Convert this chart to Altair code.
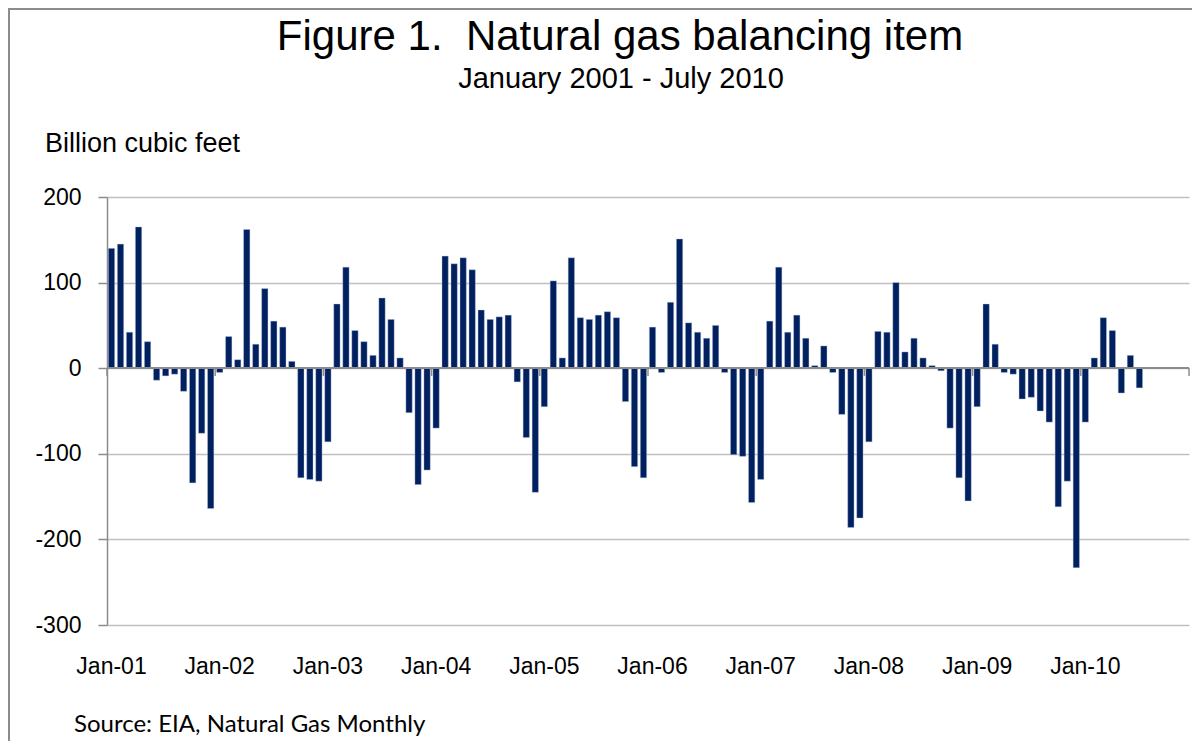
import altair as alt
import pandas as pd

# ---- data (billion cubic feet) ----
years = [2001, 2002, 2003, 2004, 2005, 2006, 2007, 2008, 2009, 2010]
v2001 = [140, 145, 42, 165, 31, -14, -9, -7, -27, -134, -76, -164]
v2002 = [-5, 37, 10, 162, 28, 93, 55, 48, 8, -128, -130, -132]
v2003 = [-86, 75, 118, 44, 31, 15, 82, 57, 12, -52, -136, -119]
v2004 = [-70, 131, 122, 129, 115, 68, 57, 60, 62, -16, -81, -145]
v2005 = [-45, 102, 12, 129, 59, 57, 62, 66, 59, -39, -115, -128]
v2006 = [48, -5, 77, 151, 53, 42, 35, 50, -5, -101, -103, -157]
v2007 = [-130, 55, 118, 42, 62, 35, 3, 26, -5, -54, -186, -175]
v2008 = [-86, 43, 42, 100, 19, 35, 12, 3, -3, -70, -128, -155]
v2009 = [-45, 75, 28, -5, -7, -36, -34, -50, -63, -162, -132, -233]
v2010 = [-63, 12, 59, 44, -29, 15, -23]
y_ticks = [-300, -200, -100, 0, 100, 200]

values = v2001 + v2002 + v2003 + v2004 + v2005 + v2006 + v2007 + v2008 + v2009 + v2010
months_all = [f"{y}-{m:02d}" for y in years for m in range(1, 13)]
df = pd.DataFrame({"month": months_all[:len(values)], "value": values})
jan_df = pd.DataFrame({"month": [f"{y}-01" for y in years]})

W, H = 1082, 428
FONT = "Liberation Sans"

xscale = alt.Scale(domain=months_all, paddingInner=0.3, paddingOuter=0.15)
yscale = alt.Scale(domain=[-300, 200], nice=False)

label_expr = ("substring(datum.value, 5, 7) == '01' ? "
              "'Jan-' + substring(datum.value, 2, 4) : ''")

bars = alt.Chart(df).mark_bar(color="#002060", stroke="#b8c4dc", strokeWidth=0.4).encode(
    x=alt.X("month:O", scale=xscale,
            axis=alt.Axis(title=None, labelExpr=label_expr, labelAngle=0, ticks=False,
                          domain=False, grid=False, labelOverlap=False, labelPadding=30,
                          labelFontSize=23, labelFont=FONT, labelColor="#000000",
                          labelBound=False, labelFlush=False)),
    y=alt.Y("value:Q", scale=yscale,
            axis=alt.Axis(title=None, values=y_ticks, grid=True, gridColor="#c0c0c0",
                          gridWidth=1.5, domainColor="#8c8c8c", domainWidth=1.5,
                          tickColor="#8c8c8c", tickWidth=1.5, tickSize=9,
                          labelExpr="'' + datum.value",
                          labelPadding=17, labelFontSize=23, labelFont=FONT,
                          labelColor="#000000")),
)

zero = alt.Chart(df).mark_rule(color="#8c8c8c", strokeWidth=1.5).encode(y=alt.datum(0))

year_ticks = alt.Chart(jan_df).mark_rule(color="#8c8c8c", strokeWidth=1.5, xOffset=-1.35).encode(
    x=alt.X("month:O", scale=xscale, bandPosition=0),
    y=alt.datum(0),
    y2=alt.datum(-9),
)
end_tick = alt.Chart(jan_df.head(1)).mark_rule(color="#8c8c8c", strokeWidth=1.5).encode(
    x=alt.value(W), y=alt.datum(0), y2=alt.datum(-9)
)

one = alt.Data(values=[{"k": 1}])


def label(text, x, y, size, align="center", font=FONT):
    return alt.Chart(one).mark_text(align=align, baseline="alphabetic", fontSize=size,
                                    font=font, color="#000000").encode(
        x=alt.value(x), y=alt.value(y), text=alt.value(text))


title = label("Figure 1.\u00a0 Natural gas balancing item", 513, -147, 42)
subtitle = label("January 2001 - July 2010", 514, -109, 29)
ytitle = label("Billion cubic feet", -62, -45, 27, align="left")
source = label("Source: EIA, Natural Gas Monthly", -33, 535, 24, align="left", font="Lato")

frame_left = alt.Chart(one).mark_rule(color="#8c8c8c", strokeWidth=2).encode(
    x=alt.value(-98), y=alt.value(-189), y2=alt.value(560))
frame_top = alt.Chart(one).mark_rule(color="#8c8c8c", strokeWidth=2).encode(
    x=alt.value(-99), x2=alt.value(1090), y=alt.value(-188))

chart = alt.layer(
    bars, zero, year_ticks, end_tick, title, subtitle, ytitle, source, frame_left, frame_top
).properties(
    width=W, height=H,
    padding={"left": 99, "top": 189, "right": 3, "bottom": 116},
    autosize=alt.AutoSizeParams(type="none"),
    background="#ffffff",
).configure_view(stroke=None)

chart.save("out.html", embed_options={"renderer": "svg", "actions": False})
